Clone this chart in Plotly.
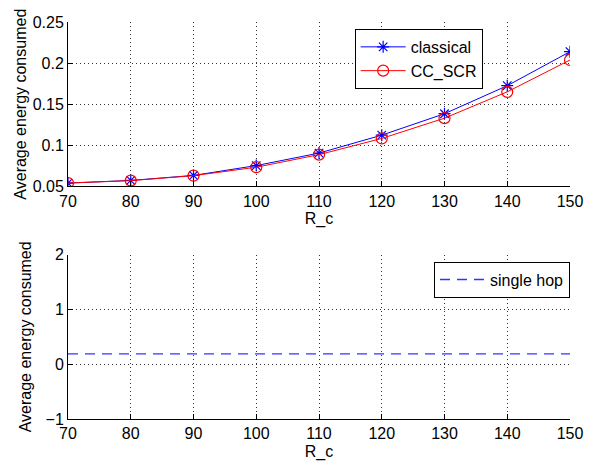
import plotly.graph_objects as go

R_c = [70, 80, 90, 100, 110, 120, 130, 140, 150]
classical = [0.054, 0.0572, 0.0633, 0.0753, 0.0905, 0.1123, 0.1384, 0.1725, 0.2139]
cc_scr = [0.054, 0.0570, 0.0630, 0.0733, 0.0886, 0.1083, 0.1330, 0.1650, 0.2038]
single_hop = [0.188, 0.188, 0.188, 0.188, 0.188, 0.188, 0.188, 0.188, 0.188]

FONT = "Liberation Sans, Arial, sans-serif"
FS = 16

fig = go.Figure()
fig.add_trace(go.Scatter(x=R_c, y=classical, name="classical", mode="lines+markers",
                         line=dict(color="#0000ff", width=1),
                         marker=dict(symbol="asterisk-open", size=10, color="#0000ff",
                                     line=dict(color="#0000ff", width=1.2)),
                         xaxis="x", yaxis="y", legend="legend"))
fig.add_trace(go.Scatter(x=R_c, y=cc_scr, name="CC_SCR", mode="lines+markers",
                         line=dict(color="#ff0000", width=1),
                         marker=dict(symbol="circle-open", size=11, color="#ff0000",
                                     line=dict(color="#ff0000", width=1.2)),
                         xaxis="x", yaxis="y", legend="legend"))
fig.add_trace(go.Scatter(x=R_c, y=single_hop, name="single hop", mode="lines",
                         line=dict(color="#3333ff", width=1.3, dash="10px,7px"),
                         xaxis="x2", yaxis="y2", legend="legend2"))

axis_common = dict(
    showline=True, linecolor="black", linewidth=1,
    ticks="inside", ticklen=5, tickcolor="black",
    showgrid=True, gridcolor="#333333", gridwidth=1, griddash="1px,3px",
    zeroline=False, mirror=False,
    tickfont=dict(family=FONT, size=FS, color="black"),
)

fig.update_layout(
    width=595, height=469,
    margin=dict(l=68, r=14, t=22, b=46),
    paper_bgcolor="white", plot_bgcolor="white",
    font=dict(family=FONT, size=FS, color="black"),
    xaxis=dict(domain=[0, 1], range=[70, 150], dtick=10, tick0=70, anchor="y",
               title=dict(text="R_c", font=dict(size=FS), standoff=4), **axis_common),
    yaxis=dict(domain=[0.586, 1], range=[0.05, 0.25], dtick=0.05, tick0=0.05, anchor="x",
               title=dict(text="Average energy consumed", font=dict(size=FS), standoff=2),
               **axis_common),
    xaxis2=dict(domain=[0, 1], range=[70, 150], dtick=10, tick0=70, anchor="y2",
                title=dict(text="R_c", font=dict(size=FS), standoff=4), **axis_common),
    yaxis2=dict(domain=[0, 0.414], range=[-1, 2], dtick=1, tick0=-1, anchor="x2",
                title=dict(text="Average energy consumed", font=dict(size=FS), standoff=9),
                **axis_common),
    legend=dict(x=0.571, y=0.9825, xanchor="left", yanchor="top",
                bgcolor="white", bordercolor="black", borderwidth=1, itemwidth=45,
                font=dict(family=FONT, size=FS, color="black")),
    legend2=dict(x=1.0, y=0.3965, xanchor="right", yanchor="top",
                 bgcolor="white", bordercolor="black", borderwidth=1, itemwidth=45,
                 font=dict(family=FONT, size=FS, color="black")),
)

fig.write_html("out.html")
